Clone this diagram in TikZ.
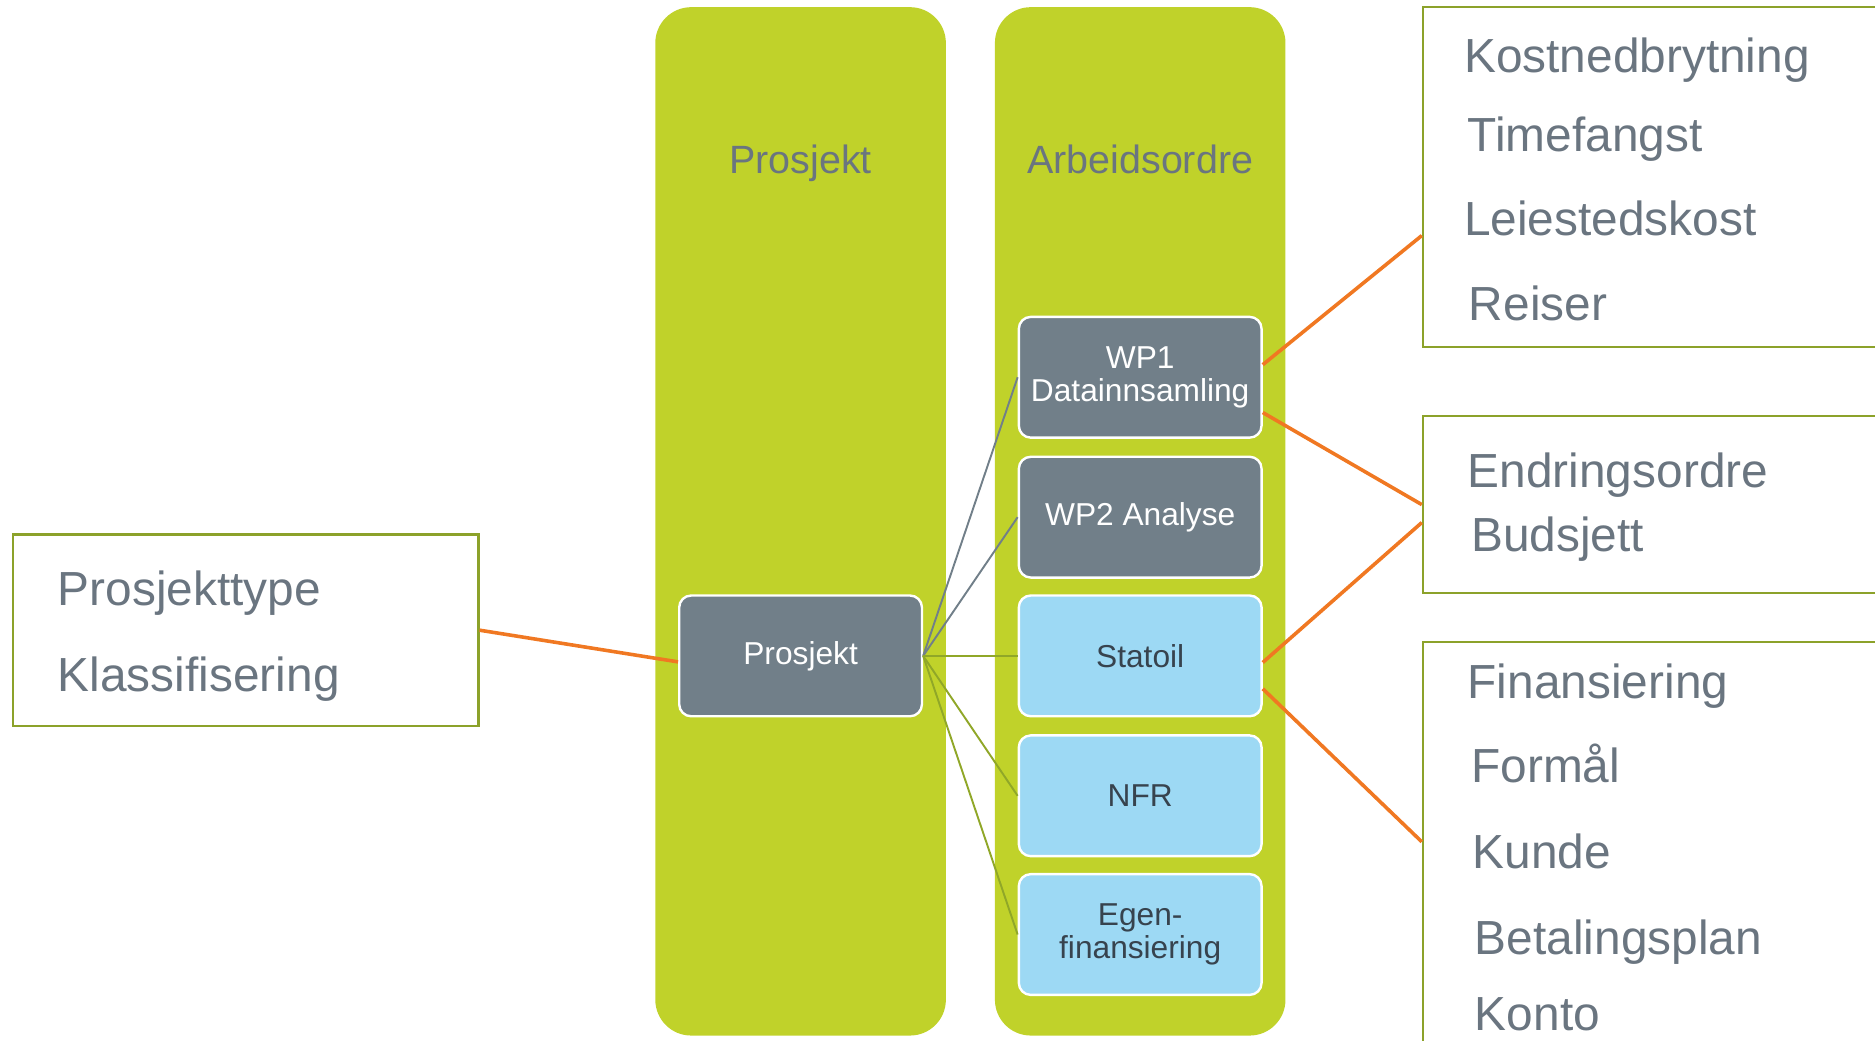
\documentclass[tikz,border=0pt]{standalone}
\usepackage{fontspec}
\setmainfont{Liberation Sans}
\usetikzlibrary{arrows,shapes}
\definecolor{lime}{HTML}{C0D22A}
\definecolor{slate}{HTML}{717F89}
\definecolor{sky}{HTML}{9DD9F4}
\definecolor{ink}{HTML}{37434E}
\definecolor{greytext}{HTML}{6A7580}
\definecolor{olive}{HTML}{8CA22A}
\definecolor{orangeline}{HTML}{F07822}
\definecolor{oliveline}{HTML}{90A728}
\tikzstyle{lane}=[rectangle,rounded corners=15pt,fill=lime,minimum width=121.5pt,minimum height=430pt,inner sep=0pt]
\tikzstyle{lanetitle}=[font=\fontsize{16.5}{18}\selectfont,text=greytext,anchor=base]
\tikzstyle{order}=[rectangle,rounded corners=5pt,draw=white,line width=1pt,minimum width=101.5pt,minimum height=50.5pt,inner sep=0pt,align=center,font=\fontsize{13.25}{14}\selectfont]
\tikzstyle{workpkg}=[order,fill=slate,text=white]
\tikzstyle{funder}=[order,fill=sky,text=ink]
\tikzstyle{attrbox}=[rectangle,draw=olive,line width=1pt,inner sep=0pt]
\tikzstyle{attr}=[font=\fontsize{20}{22}\selectfont,text=greytext,anchor=base west,inner sep=0pt]
\tikzstyle{link} = [draw,line width=0.8pt,-]
\tikzstyle{hook} = [draw,orangeline,line width=1.5pt,-]

\begin{document}
\begin{tikzpicture}[x=0.5pt,y=-0.5pt]
    \useasboundingbox (0,0) rectangle (1568,870);
    \clip (0,0) rectangle (1568,870);
    % Draw the two lanes first
    \node[lane] (laneP) at (669.5,436) {};
    \node[lane] (laneA) at (953.5,436) {};
    \node[lanetitle] (titleP) at (669.5,145) {Prosjekt};
    \node[lanetitle] (titleA) at (953.5,145) {Arbeidsordre};
    % Then the boxes in the lanes
    \node[workpkg] (prosj) at (669.5,548.5) {Prosjekt};
    \foreach \pos/\name/\txt in {{(953.5,315.5)/wp1/WP1\\Datainnsamling}, {(953.5,432.5)/wp2/WP2 Analyse}}
        \node[workpkg] (\name) at \pos {\txt};
    \foreach \pos/\name/\txt in {{(953.5,548.5)/statoil/Statoil}, {(953.5,665.5)/nfr/NFR}, {(953.5,781.5)/egen/Egen-\\finansiering}}
        \node[funder] (\name) at \pos {\txt};
    % Attribute boxes
    \node[attrbox,minimum width=194.5pt,minimum height=80pt] (lbox) at (205.5,527) {};
    \node[attrbox,minimum width=205pt,minimum height=142pt] (rtop) at (1395,148) {};
    \node[attrbox,minimum width=205pt,minimum height=74pt] (rmid) at (1395,422) {};
    \node[attrbox,minimum width=205pt,minimum height=181.5pt] (rbot) at (1395,718.5) {};
    % Texts in the attribute boxes
    \foreach \pos/\name/\txt in {{(48,506)/ptype/Prosjekttype}, {(48,578)/klass/Klassifisering},
        {(1224,61)/kost/Kostnedbrytning}, {(1227,127)/time/Timefangst}, {(1224,197)/leie/Leiestedskost}, {(1228,268)/reis/Reiser},
        {(1227,408)/endr/Endringsordre}, {(1230,461)/buds/Budsjett},
        {(1227,584)/fin/Finansiering}, {(1230,654)/form/Formål}, {(1231,726)/kunde/Kunde}, {(1233,798)/betal/Betalingsplan}, {(1233,862)/konto/Konto}}
        \node[attr] (\name) at \pos {\txt};
    % Connect the project with the orders
    \foreach \dest in {wp1, wp2}
        \path[link,slate] (prosj.east) -- (\dest.west);
    \foreach \dest in {statoil, nfr, egen}
        \path[link,oliveline] (prosj.east) -- (\dest.west);
    % Orange lines out to the boxes
    \path[hook] (lbox.east) -- ([yshift=-2.5pt]prosj.west);
    \path[hook] ([yshift=5.25pt]wp1.east) -- ([yshift=-24.5pt]rtop.west);
    \path[hook] ([yshift=-14.75pt]wp1.east) -- (rmid.west);
    \path[hook] ([yshift=-2.75pt]statoil.east) -- ([yshift=-7.5pt]rmid.west);
    \path[hook] ([yshift=-13.75pt]statoil.east) -- ([yshift=7.25pt]rbot.west);
\end{tikzpicture}
\end{document}
